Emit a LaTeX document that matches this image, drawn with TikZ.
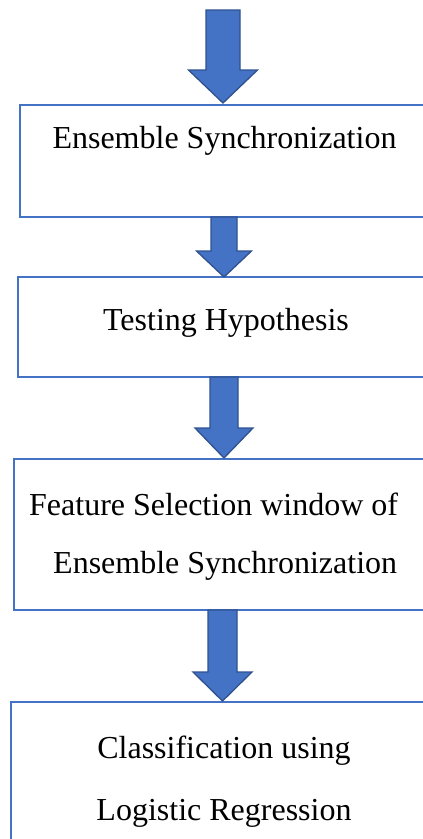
\documentclass[tikz,border=0pt]{standalone}
\usepackage{fontspec}
\setmainfont{Liberation Serif}
\definecolor{boxblue}{HTML}{4472C4}
\definecolor{arrowedge}{HTML}{2F528F}
\newcommand\blockarrow[6]{% cx, top, headY, tip, halfshaft, halfhead
  \filldraw[arrowstyle] (#1-#5,#2) -- (#1+#5,#2) -- (#1+#5,#3) -- (#1+#6,#3)
    -- (#1,#4) -- (#1-#6,#3) -- (#1-#5,#3) -- cycle;}
\newcommand\openbox[1]{%
  \draw[boxline] (#1.north east) -- (#1.north west) -- (#1.south west) -- (#1.south east);}
\begin{document}
\begin{tikzpicture}[x=1pt,y=-1pt,
  box/.style={rectangle, inner sep=0pt, outer sep=0pt},
  boxline/.style={draw=boxblue, line width=2pt, line join=miter},
  arrowstyle/.style={fill=boxblue, draw=arrowedge, line width=1.3pt, line join=miter},
  txt/.style={anchor=base, inner sep=0pt, font=\fontsize{32}{38}\selectfont}]
\useasboundingbox (0,0) rectangle (423,839);
\clip (0,0) rectangle (423,839);
\fill[white] (0,0) rectangle (423,839);
% boxes (right sides lie beyond the picture's edge)
\node[box, minimum width=460pt, minimum height=112pt] (b1) at (250,161) {};
\node[box, minimum width=462pt, minimum height=100pt] (b2) at (249,327) {};
\node[box, minimum width=466pt, minimum height=151pt] (b3) at (247,534.5) {};
\node[box, minimum width=469pt, minimum height=180pt] (b4) at (245.5,792) {};
\openbox{b1}
\openbox{b2}
\openbox{b3}
\openbox{b4}
% arrows
\blockarrow{223}{10}{70}{103}{17}{34.5}
\blockarrow{224}{217}{251}{277}{13}{27.5}
\blockarrow{224}{377}{428}{458}{14}{29}
\blockarrow{222.5}{610}{672}{701}{14.5}{29.5}
% texts
\node[txt] (t1) at (224.5,148) {Ensemble Synchronization};
\node[txt] (t2) at (226,330) {Testing Hypothesis};
\node[txt, anchor=base west] (t3a) at (29,515) {Feature Selection window of};
\node[txt, anchor=base west] (t3b) at (53,573) {Ensemble Synchronization};
\node[txt] (t4a) at (224,758) {Classification using};
\node[txt] (t4b) at (224,820) {Logistic Regression};
\end{tikzpicture}
\end{document}
